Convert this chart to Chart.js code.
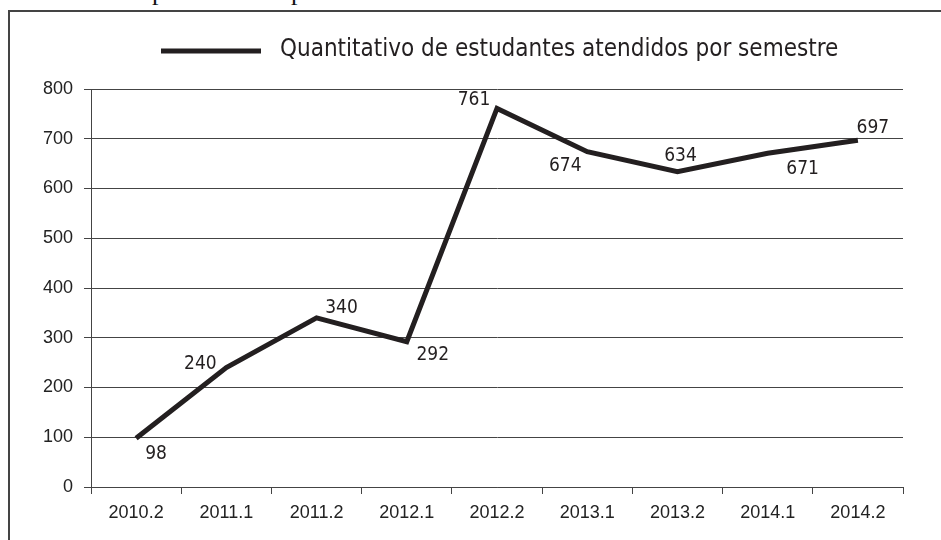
<!DOCTYPE html>
<html>
<head>
<meta charset="utf-8">
<script src="https://cdn.jsdelivr.net/npm/chart.js@4"></script>
<style>
  html, body { margin: 0; padding: 0; background: #fff; }
  #wrap { position: relative; width: 941px; height: 540px; overflow: hidden; }
  #frame { position: absolute; left: 8px; top: 10px; width: 960px; height: 560px;
           border-left: 2px solid #444; border-top: 2px solid #444; }
  .cut { position: absolute; top: -21px; font: 26px/26px "Liberation Serif", serif; color: #111; }
  canvas { position: absolute; left: 0; top: 0; }
</style>
</head>
<body>
<div id="wrap">
  <span class="cut" style="left:152px">p</span>
  <span class="cut" style="left:291px">p</span>
  <div id="frame"></div>
  <canvas id="chart" width="941" height="540"></canvas>
</div>
<script>
// Quantitativo de estudantes atendidos por semestre
const semesters = ['2010.2', '2011.1', '2011.2', '2012.1', '2012.2', '2013.1', '2013.2', '2014.1', '2014.2'];
const students = [98, 240, 340, 292, 761, 674, 634, 671, 697];
const seriesName = 'Quantitativo de estudantes atendidos por semestre';
const yMin = 0, yMax = 800, yStep = 100;

const ink = '#231f20';
const gridColor = '#444';

// where each value label sits relative to its point (dx, dy)
const labelOffsets = [[20, 16], [-26, -4], [25, -10], [26, 13], [-23, -8], [-22, 14], [3, -16], [35, 16], [15, -12]];

const pointLabels = {
  id: 'pointLabels',
  afterDatasetsDraw(chart) {
    const ctx = chart.ctx;
    const meta = chart.getDatasetMeta(0);
    ctx.save();
    ctx.font = '19px "DejaVu Sans Condensed", "DejaVu Sans"';
    ctx.fillStyle = ink;
    ctx.textAlign = 'center';
    ctx.textBaseline = 'middle';
    meta.data.forEach((pt, i) => {
      const [dx, dy] = labelOffsets[i];
      ctx.fillText(String(students[i]), pt.x + dx, pt.y + dy);
    });
    ctx.restore();
  }
};

// legend drawn by hand: long line then the series name
const lineLegend = {
  id: 'lineLegend',
  afterDraw(chart) {
    const ctx = chart.ctx;
    ctx.save();
    ctx.strokeStyle = ink;
    ctx.lineWidth = 5;
    ctx.beginPath();
    ctx.moveTo(161, 51);
    ctx.lineTo(261, 51);
    ctx.stroke();
    ctx.font = '24px "DejaVu Sans Condensed", "DejaVu Sans"';
    ctx.fillStyle = ink;
    ctx.textBaseline = 'middle';
    ctx.fillText(chart.data.datasets[0].label, 280, 50);
    ctx.restore();
  }
};

new Chart(document.getElementById('chart'), {
  type: 'line',
  data: {
    labels: semesters,
    datasets: [{
      label: seriesName,
      data: students,
      borderColor: ink,
      borderWidth: 5,
      pointRadius: 0,
      tension: 0,
      fill: false
    }]
  },
  options: {
    responsive: false,
    animation: false,
    layout: { padding: { left: 0, right: 38, top: 89, bottom: 0 } },
    plugins: { legend: { display: false }, tooltip: { enabled: false } },
    scales: {
      x: {
        offset: true,
        grid: { offset: true, drawOnChartArea: false, drawTicks: true, tickLength: 7, color: gridColor },
        border: { display: true, color: gridColor, width: 1 },
        ticks: { color: '#222', font: { family: 'Liberation Sans', size: 18 }, padding: 8, maxRotation: 0 },
        afterFit(scale) { scale.height = 53; }
      },
      y: {
        min: yMin,
        max: yMax,
        ticks: { stepSize: yStep, color: '#222', font: { family: 'Liberation Sans', size: 18 }, padding: 11 },
        grid: { color: gridColor, tickLength: 7, drawTicks: true },
        border: { display: true, color: gridColor, width: 1 },
        afterFit(scale) { scale.width = 91; }
      }
    }
  },
  plugins: [pointLabels, lineLegend]
});
</script>
</body>
</html>
